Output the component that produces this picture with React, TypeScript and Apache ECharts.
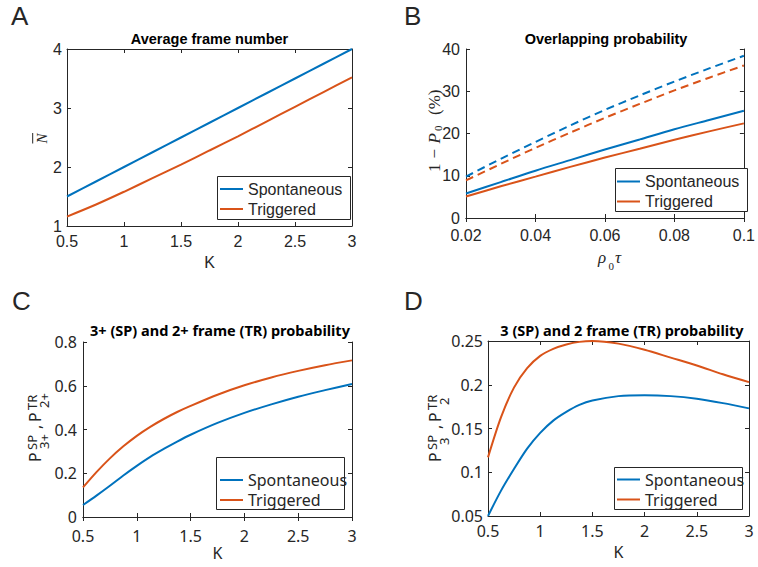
import React, { useEffect, useRef } from "react";
import * as echarts from "echarts";

// ---------- data ----------
const kValues = [0.5, 0.75, 1, 1.25, 1.5, 1.75, 2, 2.25, 2.5, 2.75, 3];
const avgFrameSpontaneous = [1.5, 1.75, 2, 2.25, 2.5, 2.75, 3, 3.25, 3.5, 3.75, 4];
const avgFrameTriggered = [1.16, 1.36, 1.58, 1.81, 2.04, 2.28, 2.52, 2.77, 3.02, 3.27, 3.52];

const rhoTau = [0.02, 0.03, 0.04, 0.05, 0.06, 0.07, 0.08, 0.09, 0.1];
const overlapSpontaneousSolid = [5.8, 8.5, 11.2, 13.7, 16.2, 18.6, 21.0, 23.2, 25.4];
const overlapTriggeredSolid = [5.1, 7.5, 9.8, 12.1, 14.3, 16.4, 18.5, 20.5, 22.4];
const overlapSpontaneousDashed = [9.8, 14.0, 18.0, 21.9, 25.6, 29.0, 32.3, 35.4, 38.4];
const overlapTriggeredDashed = [8.9, 12.8, 16.6, 20.2, 23.7, 27.0, 30.2, 33.2, 36.1];

const kDense = [0.5, 0.625, 0.75, 0.875, 1, 1.125, 1.25, 1.375, 1.5, 1.75, 2, 2.25, 2.5, 2.75, 3];
const probPlusSpontaneous = [0.055, 0.098, 0.143, 0.19, 0.234, 0.275, 0.311, 0.345, 0.376, 0.43, 0.476, 0.515, 0.55, 0.58, 0.608];
const probPlusTriggered = [0.135, 0.205, 0.268, 0.323, 0.371, 0.412, 0.448, 0.48, 0.508, 0.559, 0.602, 0.638, 0.668, 0.694, 0.716];

const probExactSpontaneous = [0.05, 0.079, 0.104, 0.127, 0.145, 0.159, 0.169, 0.177, 0.182, 0.187, 0.188, 0.187, 0.184, 0.179, 0.173];
const probExactTriggered = [0.117, 0.163, 0.197, 0.219, 0.233, 0.241, 0.246, 0.249, 0.25, 0.247, 0.24, 0.231, 0.222, 0.212, 0.203];

const panelTitles = [
  "Average frame number",
  "Overlapping probability",
  "3+ (SP) and 2+ frame (TR) probability",
  "3 (SP) and 2 frame (TR) probability",
];
const seriesNames = ["Spontaneous", "Triggered"];
const panelLetters = ["A", "B", "C", "D"];

// ---------- style ----------
const BLUE = "#0072BD";
const ORANGE = "#D95319";
const INK = "#262626";
const SANS_AB = "'Liberation Sans', Arial, sans-serif";
const SANS_CD = "'Noto Sans', sans-serif";
const SERIF = "'Liberation Serif', 'DejaVu Serif', serif";

const pairs = (xs: number[], ys: number[]) => xs.map((x, i) => [x, ys[i]]);

type PanelCfg = {
  left: number; top: number; width: number; height: number;
  xMin: number; xMax: number; xInt: number;
  yMin: number; yMax: number; yInt: number;
  font: string; xName: string; xMargin: number; yMargin: number; nameGap: number;
  titleX: number; titleY: number;
};

const panels: PanelCfg[] = [
  { left: 67, top: 49, width: 285, height: 177, xMin: 0.5, xMax: 3, xInt: 0.5, yMin: 1, yMax: 4, yInt: 1, font: SANS_AB, xName: "K", xMargin: 7, yMargin: 5, nameGap: 28, titleX: 209.5, titleY: 31 },
  { left: 466, top: 49, width: 283, height: 169, xMin: 0.02, xMax: 0.1, xInt: 0.02, yMin: 0, yMax: 40, yInt: 10, font: SANS_AB, xName: "", xMargin: 9, yMargin: 6, nameGap: 28, titleX: 606, titleY: 31 },
  { left: 83, top: 342, width: 269, height: 175, xMin: 0.5, xMax: 3, xInt: 0.5, yMin: 0, yMax: 0.8, yInt: 0.2, font: SANS_CD, xName: "K", xMargin: 11, yMargin: 6, nameGap: 28, titleX: 220, titleY: 322 },
  { left: 488, top: 341, width: 261, height: 175, xMin: 0.5, xMax: 3, xInt: 0.5, yMin: 0.05, yMax: 0.25, yInt: 0.05, font: SANS_CD, xName: "K", xMargin: 7, yMargin: 5, nameGap: 28, titleX: 622, titleY: 322 },
];

function txt(x: number, y: number, text: string, size: number, family: string, opts: any = {}) {
  return {
    type: "text",
    x,
    y,
    z: 10,
    style: {
      text,
      fontSize: size,
      fontFamily: family,
      fontStyle: opts.italic ? "italic" : "normal",
      fontWeight: opts.bold ? "bold" : "normal",
      fill: INK,
      align: opts.align || "left",
      verticalAlign: "middle",
    },
  };
}

function buildOption() {
  const grid: any[] = [];
  const xAxis: any[] = [];
  const yAxis: any[] = [];
  const title: any[] = [];

  panels.forEach((p, i) => {
    grid.push({ left: p.left, top: p.top, width: p.width, height: p.height, show: false });
    const common = {
      type: "value",
      gridIndex: i,
      splitLine: { show: false },
      axisLine: { show: true, lineStyle: { color: INK, width: 1 } },
      axisTick: { show: true, inside: true, length: 4, lineStyle: { color: INK } },
    };
    xAxis.push({
      ...common,
      position: "bottom",
      min: p.xMin, max: p.xMax, interval: p.xInt,
      name: p.xName,
      nameLocation: "middle",
      nameGap: p.nameGap,
      nameTextStyle: { fontSize: 16, fontFamily: p.font, color: INK },
      axisLabel: { fontSize: 16, fontFamily: p.font, color: INK, margin: p.xMargin },
    });
    xAxis.push({
      ...common,
      position: "top",
      min: p.xMin, max: p.xMax, interval: p.xInt,
      axisLabel: { show: false },
    });
    yAxis.push({
      ...common,
      position: "left",
      min: p.yMin, max: p.yMax, interval: p.yInt,
      axisLabel: { fontSize: 16, lineHeight: 14, fontFamily: p.font, color: INK, margin: p.yMargin },
    });
    yAxis.push({
      ...common,
      position: "right",
      min: p.yMin, max: p.yMax, interval: p.yInt,
      axisLabel: { show: false },
    });
    title.push({
      text: panelTitles[i],
      left: p.titleX,
      top: p.titleY,
      textAlign: "center",
      padding: 0,
      textStyle: { fontSize: 14.5, fontWeight: "bold", fontFamily: p.font, color: "#000" },
    });
  });

  const line = (name: string, idx: number, xs: number[], ys: number[], color: string, dashed = false) => ({
    type: "line",
    name,
    xAxisIndex: idx * 2,
    yAxisIndex: idx * 2,
    data: pairs(xs, ys),
    symbol: "none",
    showSymbol: false,
    smooth: 0.3,
    lineStyle: { color, width: 2, type: dashed ? [8, 5] : "solid" },
    itemStyle: { color },
    z: 2,
  });

  const series = [
    line("Spontaneous", 0, kValues, avgFrameSpontaneous, BLUE),
    line("Triggered", 0, kValues, avgFrameTriggered, ORANGE),
    line("Spontaneous", 1, rhoTau, overlapSpontaneousSolid, BLUE),
    line("Triggered", 1, rhoTau, overlapTriggeredSolid, ORANGE),
    line("Spontaneous (all frames)", 1, rhoTau, overlapSpontaneousDashed, BLUE, true),
    line("Triggered (all frames)", 1, rhoTau, overlapTriggeredDashed, ORANGE, true),
    line("Spontaneous", 2, kDense, probPlusSpontaneous, BLUE),
    line("Triggered", 2, kDense, probPlusTriggered, ORANGE),
    line("Spontaneous", 3, kDense, probExactSpontaneous, BLUE),
    line("Triggered", 3, kDense, probExactTriggered, ORANGE),
  ];

  const legendPos = [
    { left: 220, top: 181, font: SANS_AB },
    { left: 617, top: 173.5, font: SANS_AB },
    { left: 220, top: 472, font: SANS_CD },
    { left: 617, top: 471.5, font: SANS_CD },
  ];
  const legend = legendPos.map((l) => ({
    data: seriesNames,
    orient: "vertical",
    left: l.left,
    top: l.top,
    padding: 0,
    icon: "path://M0,0H23V2H0Z",
    itemWidth: 23,
    itemHeight: 16,
    itemGap: 4,
    selectedMode: false,
    z: 12,
    textStyle: { fontSize: 16, fontFamily: l.font, color: INK },
  }));

  const legendBoxes = [
    { x: 217, y: 176, width: 133, height: 43 },
    { x: 615, y: 168, width: 132, height: 43 },
    { x: 216, y: 457, width: 128, height: 52 },
    { x: 614, y: 467, width: 128, height: 42 },
  ];

  const graphic: any[] = [];
  legendBoxes.forEach((b) => {
    graphic.push({
      type: "rect",
      z: 5,
      shape: { x: b.x + 0.5, y: b.y + 0.5, width: b.width, height: b.height },
      style: { fill: "#fff", stroke: INK, lineWidth: 1 },
    });
  });

  // panel letters
  const letterPos = [
    [11, 16],
    [404, 16],
    [12, 301],
    [404, 301],
  ];
  letterPos.forEach((pos, i) => graphic.push(txt(pos[0], pos[1], panelLetters[i], 26, SANS_AB)));

  // A y-label: N with overline
  graphic.push({
    type: "group",
    x: 41.7,
    y: 138.5,
    rotation: Math.PI / 2,
    children: [
      txt(0, 0, "N", 15, SERIF, { italic: true, align: "center" }),
      { type: "line", z: 10, shape: { x1: -5, y1: -9, x2: 5.5, y2: -9 }, style: { stroke: INK, lineWidth: 1 } },
    ],
  });

  // B y-label: 1 − P0 (%)
  graphic.push({
    type: "group",
    x: 434,
    y: 129.5,
    rotation: Math.PI / 2,
    children: [
      txt(-42.5, 0, "1", 17, SERIF),
      txt(-29, 0, "−", 17, SERIF),
      txt(-14, 0, "P", 17, SERIF, { italic: true }),
      txt(-1.5, 4, "0", 11, SERIF),
      txt(14.5, 0, "(%)", 17, SERIF),
    ],
  });

  // B x-label: rho_0 tau
  graphic.push(txt(598, 257, "ρ", 17, SERIF, { italic: true }));
  graphic.push(txt(608.5, 266, "0", 11, SERIF));
  graphic.push(txt(615, 257, "τ", 17, SERIF, { italic: true }));

  // C y-label
  graphic.push({
    type: "group",
    x: 35,
    y: 426,
    rotation: Math.PI / 2,
    children: [
      txt(-36, 0, "P", 16, SANS_CD),
      txt(-24, -3, "SP", 13, SANS_CD),
      txt(-23, 9, "3+", 13, SANS_CD),
      txt(-3, 0, ",", 16, SANS_CD),
      txt(4, 0, "P", 16, SANS_CD),
      txt(16, -3, "TR", 13, SANS_CD),
      txt(18, 9, "2+", 13, SANS_CD),
    ],
  });

  // D y-label
  graphic.push({
    type: "group",
    x: 435,
    y: 426,
    rotation: Math.PI / 2,
    children: [
      txt(-36, 0, "P", 16, SANS_CD),
      txt(-24, -3, "SP", 13, SANS_CD),
      txt(-19, 9, "3", 13, SANS_CD),
      txt(-3, 0, ",", 16, SANS_CD),
      txt(4, 0, "P", 16, SANS_CD),
      txt(16, -3, "TR", 13, SANS_CD),
      txt(21, 9, "2", 13, SANS_CD),
    ],
  });

  return {
    animation: false,
    backgroundColor: "#fff",
    title,
    grid,
    xAxis,
    yAxis,
    legend,
    series,
    graphic,
  };
}

export default function App() {
  const ref = useRef<HTMLDivElement>(null);
  useEffect(() => {
    if (!ref.current) return;
    const chart = echarts.init(ref.current, null, { renderer: "svg" });
    chart.setOption(buildOption() as any);
    return () => chart.dispose();
  }, []);
  return (
    <div
      ref={ref}
      style={{ position: "absolute", left: 0, top: 0, width: 758, height: 567 }}
    />
  );
}
